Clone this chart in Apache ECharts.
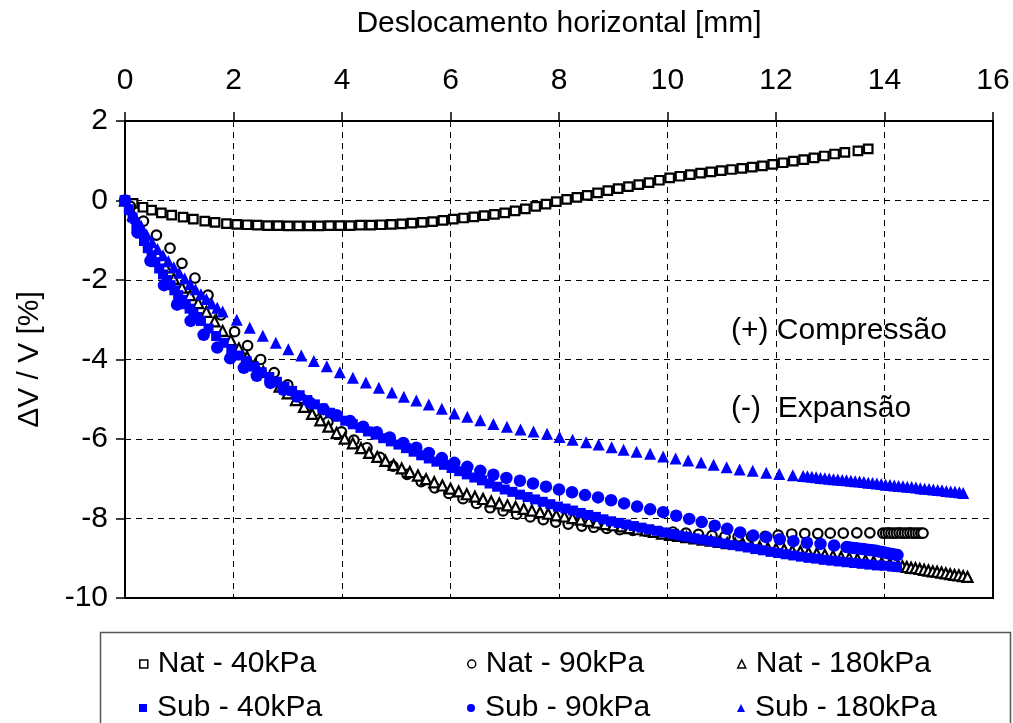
<!DOCTYPE html>
<html>
<head>
<meta charset="utf-8">
<script src="https://cdn.jsdelivr.net/npm/echarts@6/dist/echarts.min.js"></script>
<style>
  html, body { margin: 0; padding: 0; background: #fff; }
  #chart { width: 1013px; height: 723px; }
</style>
</head>
<body>
<div id="chart"></div>
<script>
// Axis ranges
const xRange = { min: 0, max: 16, step: 2 };
const yRange = { min: -10, max: 2, step: 2 };

const seriesNames = ['Nat - 40kPa', 'Nat - 90kPa', 'Nat - 180kPa', 'Sub - 40kPa', 'Sub - 90kPa', 'Sub - 180kPa'];

// [horizontal displacement (mm), volumetric strain (%)]
const nat40 = [
  [0,0],[0.15,-0.07],[0.33,-0.17],[0.49,-0.24],[0.67,-0.31],[0.86,-0.37],[1.07,-0.42],[1.26,-0.47],
  [1.47,-0.52],[1.66,-0.55],[1.87,-0.58],[2.06,-0.6],[2.25,-0.61],[2.44,-0.62],[2.63,-0.63],[2.82,-0.63],
  [3.01,-0.64],[3.2,-0.64],[3.39,-0.64],[3.58,-0.64],[3.77,-0.63],[3.96,-0.63],[4.15,-0.63],[4.34,-0.62],
  [4.53,-0.62],[4.72,-0.61],[4.91,-0.6],[5.1,-0.59],[5.29,-0.57],[5.48,-0.55],[5.67,-0.53],[5.86,-0.5],
  [6.05,-0.47],[6.24,-0.44],[6.43,-0.41],[6.62,-0.38],[6.81,-0.35],[7.0,-0.31],[7.19,-0.26],[7.38,-0.21],
  [7.57,-0.15],[7.76,-0.09],[7.95,-0.03],[8.14,0.03],[8.33,0.08],[8.52,0.13],[8.71,0.19],[8.9,0.25],
  [9.09,0.3],[9.28,0.35],[9.47,0.4],[9.66,0.45],[9.85,0.51],[10.04,0.57],[10.23,0.61],[10.42,0.65],
  [10.61,0.69],[10.8,0.72],[10.99,0.75],[11.18,0.78],[11.37,0.81],[11.56,0.84],[11.75,0.87],[11.94,0.91],
  [12.13,0.95],[12.32,0.99],[12.51,1.03],[12.7,1.07],[12.89,1.12],[13.08,1.17],[13.27,1.21],[13.51,1.25],
  [13.7,1.3]
];

const nat90 = [
  [0,0],[0.1,-0.15],[0.34,-0.52],[0.58,-0.87],[0.83,-1.2],[1.05,-1.58],[1.29,-1.95],[1.53,-2.38],
  [1.77,-2.88],[2.02,-3.3],[2.26,-3.65],[2.5,-4.0],[2.75,-4.33],[3.0,-4.64],[3.25,-4.98],[3.5,-5.3],
  [3.74,-5.57],[3.99,-5.82],[4.22,-6.03],[4.46,-6.22],[4.7,-6.46],[4.94,-6.68],[5.2,-6.89],[5.46,-7.07],
  [5.71,-7.23],[5.97,-7.37],[6.23,-7.5],[6.48,-7.62],[6.73,-7.73],[6.97,-7.81],[7.22,-7.89],[7.47,-7.96],
  [7.71,-8.03],[7.94,-8.09],[8.17,-8.14],[8.42,-8.19],[8.64,-8.22],[8.88,-8.25],[9.12,-8.28],[9.36,-8.3],
  [9.6,-8.32],[9.85,-8.33],[10.1,-8.34],[10.34,-8.37],[10.57,-8.4],[10.82,-8.43],[11.06,-8.45],[11.3,-8.46],
  [11.55,-8.45],[11.8,-8.45],[12.04,-8.42],[12.29,-8.39],[12.53,-8.38],[12.77,-8.38],[13.0,-8.37],[13.24,-8.37],
  [13.49,-8.36],[13.73,-8.36],[13.97,-8.37],[14.02,-8.37],[14.07,-8.36],[14.12,-8.37],[14.17,-8.37],[14.22,-8.37],
  [14.27,-8.36],[14.32,-8.37],[14.37,-8.37],[14.42,-8.37],[14.47,-8.36],[14.52,-8.37],[14.57,-8.37],[14.62,-8.37],
  [14.67,-8.37],[14.71,-8.37]
];

const nat180 = [
  [0,0],[0.15,-0.36],[0.3,-0.7],[0.45,-1.04],[0.6,-1.36],[0.75,-1.68],[0.9,-1.97],[1.05,-2.19],
  [1.2,-2.38],[1.35,-2.58],[1.5,-2.8],[1.65,-3.04],[1.8,-3.28],[1.95,-3.51],[2.1,-3.72],[2.25,-3.93],
  [2.4,-4.12],[2.55,-4.31],[2.7,-4.5],[2.85,-4.68],[3.0,-4.85],[3.15,-5.02],[3.3,-5.19],[3.45,-5.37],
  [3.6,-5.53],[3.75,-5.69],[3.9,-5.85],[4.05,-5.99],[4.2,-6.11],[4.35,-6.23],[4.5,-6.35],[4.65,-6.45],
  [4.8,-6.55],[4.95,-6.65],[5.1,-6.74],[5.25,-6.83],[5.4,-6.92],[5.55,-7.01],[5.7,-7.09],[5.85,-7.17],
  [6.0,-7.25],[6.15,-7.32],[6.3,-7.39],[6.45,-7.45],[6.6,-7.51],[6.75,-7.57],[6.9,-7.62],[7.05,-7.67],
  [7.2,-7.71],[7.35,-7.76],[7.5,-7.8],[7.65,-7.84],[7.8,-7.88],[7.95,-7.92],[8.1,-7.95],[8.25,-7.99],
  [8.4,-8.03],[8.55,-8.06],[8.7,-8.1],[8.85,-8.14],[9.0,-8.17],[9.15,-8.2],[9.3,-8.24],[9.45,-8.27],
  [9.6,-8.3],[9.75,-8.34],[9.9,-8.38],[10.05,-8.41],[10.2,-8.44],[10.35,-8.47],[10.5,-8.5],[10.65,-8.53],
  [10.8,-8.56],[10.95,-8.59],[11.1,-8.62],[11.25,-8.64],[11.4,-8.66],[11.55,-8.69],[11.7,-8.71],[11.85,-8.74],
  [12.0,-8.76],[12.15,-8.78],[12.3,-8.81],[12.45,-8.83],[12.6,-8.86],[12.75,-8.88],[12.9,-8.91],[13.05,-8.94],
  [13.2,-8.97],[13.35,-8.99],[13.5,-9.02],[13.65,-9.05],[13.8,-9.08],[13.95,-9.11],[14.1,-9.14],[14.25,-9.18],
  [14.33,-9.2],[14.41,-9.22],[14.49,-9.24],[14.57,-9.25],[14.65,-9.27],[14.73,-9.29],[14.81,-9.31],[14.89,-9.33],
  [14.97,-9.34],[15.05,-9.36],[15.13,-9.38],[15.21,-9.4],[15.29,-9.42],[15.37,-9.43],[15.45,-9.45],[15.53,-9.47]
];

const sub40 = [
  [0,0],[0.07,-0.22],[0.14,-0.43],[0.21,-0.63],[0.28,-0.83],[0.35,-1.02],[0.42,-1.2],[0.49,-1.38],
  [0.56,-1.55],[0.63,-1.71],[0.7,-1.86],[0.77,-2.0],[0.84,-2.13],[0.91,-2.26],[0.98,-2.38],[1.05,-2.5],
  [1.12,-2.61],[1.19,-2.72],[1.26,-2.83],[1.33,-2.93],[1.4,-3.03],[1.54,-3.22],[1.68,-3.41],[1.82,-3.58],
  [1.96,-3.75],[2.1,-3.9],[2.24,-4.04],[2.38,-4.18],[2.52,-4.32],[2.66,-4.44],[2.8,-4.56],[2.94,-4.68],
  [3.08,-4.79],[3.22,-4.9],[3.36,-5.02],[3.5,-5.13],[3.64,-5.23],[3.78,-5.34],[3.92,-5.44],[4.06,-5.54],
  [4.2,-5.63],[4.34,-5.72],[4.48,-5.81],[4.62,-5.89],[4.76,-5.98],[4.9,-6.06],[5.04,-6.14],[5.18,-6.23],
  [5.32,-6.32],[5.46,-6.41],[5.6,-6.49],[5.74,-6.57],[5.88,-6.65],[6.02,-6.73],[6.16,-6.81],[6.3,-6.89],
  [6.44,-6.97],[6.58,-7.04],[6.72,-7.12],[6.86,-7.2],[7.0,-7.27],[7.14,-7.33],[7.28,-7.4],[7.42,-7.46],
  [7.56,-7.52],[7.7,-7.58],[7.84,-7.64],[7.98,-7.7],[8.12,-7.75],[8.26,-7.8],[8.4,-7.86],[8.54,-7.91],
  [8.68,-7.96],[8.82,-8.02],[8.96,-8.07],[9.1,-8.11],[9.24,-8.15],[9.38,-8.19],[9.52,-8.23],[9.66,-8.27],
  [9.8,-8.31],[9.94,-8.35],[10.08,-8.39],[10.22,-8.43],[10.36,-8.46],[10.5,-8.5],[10.64,-8.53],[10.78,-8.57],
  [10.92,-8.6],[11.06,-8.63],[11.2,-8.67],[11.34,-8.7],[11.48,-8.73],[11.62,-8.77],[11.76,-8.8],[11.9,-8.84],
  [12.04,-8.87],[12.18,-8.9],[12.32,-8.93],[12.46,-8.96],[12.6,-8.99],[12.74,-9.01],[12.88,-9.04],[13.02,-9.06],
  [13.16,-9.08],[13.3,-9.1],[13.44,-9.12],[13.58,-9.14],[13.72,-9.16],[13.86,-9.18],[14.0,-9.19],[14.14,-9.21],
  [14.23,-9.22]
];

const sub90 = [
  [0,0],[0.23,-0.8],[0.47,-1.52],[0.72,-2.13],[0.96,-2.62],[1.21,-3.03],[1.45,-3.38],[1.7,-3.7],
  [1.94,-3.97],[2.19,-4.21],[2.43,-4.41],[2.68,-4.59],[2.92,-4.76],[3.17,-4.93],[3.41,-5.09],[3.66,-5.25],
  [3.9,-5.4],[4.15,-5.55],[4.39,-5.69],[4.64,-5.83],[4.88,-5.96],[5.13,-6.1],[5.37,-6.22],[5.6,-6.35],
  [5.84,-6.48],[6.07,-6.6],[6.31,-6.7],[6.55,-6.8],[6.79,-6.9],[7.03,-6.98],[7.28,-7.05],[7.52,-7.12],
  [7.76,-7.2],[8.0,-7.27],[8.24,-7.34],[8.48,-7.41],[8.72,-7.47],[8.96,-7.54],[9.2,-7.62],[9.44,-7.7],
  [9.68,-7.77],[9.92,-7.84],[10.16,-7.93],[10.4,-8.01],[10.63,-8.09],[10.87,-8.18],[11.1,-8.26],[11.34,-8.35],
  [11.58,-8.43],[11.82,-8.47],[12.07,-8.52],[12.32,-8.57],[12.57,-8.61],[12.82,-8.64],[13.07,-8.68],[13.3,-8.72],
  [13.36,-8.73],[13.42,-8.74],[13.48,-8.75],[13.54,-8.76],[13.6,-8.77],[13.66,-8.78],[13.72,-8.79],[13.78,-8.8],
  [13.84,-8.81],[13.9,-8.83],[13.96,-8.84],[14.02,-8.86],[14.08,-8.88],[14.14,-8.89],[14.2,-8.91],[14.24,-8.92]
];

const sub180 = [
  [0,0],[0.1,-0.22],[0.2,-0.44],[0.3,-0.65],[0.4,-0.86],[0.5,-1.05],[0.6,-1.22],[0.7,-1.38],
  [0.8,-1.53],[0.9,-1.68],[1.0,-1.82],[1.1,-1.96],[1.2,-2.1],[1.3,-2.23],[1.4,-2.36],[1.5,-2.48],
  [1.6,-2.59],[1.7,-2.7],[1.8,-2.79],[2.06,-3.0],[2.3,-3.2],[2.54,-3.4],[2.78,-3.58],[3.01,-3.74],
  [3.25,-3.9],[3.48,-4.04],[3.72,-4.17],[3.96,-4.32],[4.2,-4.46],[4.44,-4.58],[4.68,-4.71],[4.92,-4.83],
  [5.14,-4.94],[5.37,-5.03],[5.6,-5.13],[5.84,-5.24],[6.07,-5.36],[6.31,-5.44],[6.55,-5.53],[6.79,-5.62],
  [7.04,-5.69],[7.29,-5.76],[7.53,-5.81],[7.78,-5.87],[8.01,-5.95],[8.25,-6.02],[8.5,-6.08],[8.73,-6.14],
  [8.97,-6.21],[9.19,-6.27],[9.43,-6.32],[9.68,-6.37],[9.92,-6.44],[10.15,-6.49],[10.38,-6.54],[10.62,-6.59],
  [10.85,-6.65],[11.09,-6.71],[11.33,-6.77],[11.57,-6.8],[11.82,-6.85],[12.06,-6.88],[12.31,-6.91],[12.5,-6.93],
  [12.58,-6.94],[12.66,-6.95],[12.74,-6.96],[12.82,-6.98],[12.9,-6.99],[12.98,-7.0],[13.06,-7.01],[13.14,-7.02],
  [13.22,-7.03],[13.3,-7.04],[13.38,-7.05],[13.46,-7.06],[13.54,-7.07],[13.62,-7.08],[13.7,-7.1],[13.78,-7.11],
  [13.86,-7.12],[13.94,-7.13],[14.02,-7.15],[14.1,-7.16],[14.18,-7.17],[14.26,-7.18],[14.34,-7.19],[14.42,-7.2],
  [14.5,-7.21],[14.58,-7.22],[14.66,-7.24],[14.74,-7.25],[14.82,-7.26],[14.9,-7.27],[14.98,-7.28],[15.06,-7.29],
  [15.14,-7.31],[15.22,-7.32],[15.3,-7.33],[15.38,-7.34],[15.45,-7.36]
];

const FONT = "'Liberation Sans', Arial, Helvetica, sans-serif";
const BLUE = '#0000ff';

const seriesData = [nat40, nat90, nat180, sub40, sub90, sub180];
const symbols = ['rect', 'circle', 'triangle', 'rect', 'circle', 'triangle'];
const sizes = [8.5, 9.5, 10, 10, 12.5, 12];

const series = seriesData.map(function (data, i) {
  const hollow = i < 3;
  return {
    name: seriesNames[i],
    type: 'scatter',
    data: data,
    symbol: symbols[i],
    symbolSize: sizes[i],
    itemStyle: hollow
      ? { color: '#fff', borderColor: '#000', borderWidth: 2.2, opacity: 1 }
      : { color: BLUE, borderWidth: 0, opacity: 1 },
    emphasis: { disabled: true },
    z: 2 + i
  };
});

// one legend block per entry, laid out in a 3 x 2 table
const legendCols = [139, 467, 737];
const legendRows = [647, 691];
const legends = seriesNames.map(function (name, i) {
  const hollow = i < 3;
  return {
    data: [{ name: name, icon: symbols[i] }],
    left: legendCols[i % 3],
    top: legendRows[Math.floor(i / 3)],
    itemWidth: 8,
    itemHeight: 8,
    padding: 0,
    selectedMode: false,
    itemStyle: hollow ? { color: '#fff', borderColor: '#000', borderWidth: 1.5 } : { color: BLUE, borderWidth: 0 },
    textStyle: { fontSize: 30, color: '#000', fontFamily: FONT, lineHeight: 34, padding: [0, 0, 0, 5] }
  };
});

const chart = echarts.init(document.getElementById('chart'), null, { renderer: 'canvas' });
chart.setOption({
  animation: false,
  backgroundColor: '#fff',
  textStyle: { fontFamily: FONT },
  grid: {
    left: 125, top: 121, width: 868, height: 477,
    show: true, borderColor: '#000', borderWidth: 2, backgroundColor: '#fff'
  },
  xAxis: {
    type: 'value', position: 'top',
    min: xRange.min, max: xRange.max, interval: xRange.step,
    name: 'Deslocamento horizontal [mm]',
    nameLocation: 'middle', nameGap: 82,
    nameTextStyle: { fontSize: 30, color: '#000', fontFamily: FONT },
    axisLine: { show: true, onZero: false, lineStyle: { color: '#000', width: 2 } },
    axisTick: { show: true, inside: false, length: 9, lineStyle: { color: '#000', width: 1.5 } },
    axisLabel: { fontSize: 30, color: '#000', margin: 25, fontFamily: FONT },
    splitLine: { show: true, lineStyle: { color: '#000', width: 1, type: [6, 5] } }
  },
  yAxis: {
    type: 'value',
    min: yRange.min, max: yRange.max, interval: yRange.step,
    name: 'ΔV / V [%]',
    nameLocation: 'middle', nameGap: 80,
    nameTextStyle: { fontSize: 30, color: '#000', fontFamily: FONT },
    axisLine: { show: true, onZero: false, lineStyle: { color: '#000', width: 2 } },
    axisTick: { show: true, inside: false, length: 9, lineStyle: { color: '#000', width: 1.5 } },
    axisLabel: { fontSize: 30, color: '#000', margin: 17, fontFamily: FONT },
    splitLine: { show: true, lineStyle: { color: '#000', width: 1, type: [6, 5] } }
  },
  legend: legends,
  graphic: [
    {
      type: 'rect', z: -1, silent: true,
      shape: { x: 100.5, y: 632.5, width: 910, height: 110 },
      style: { fill: '#fff', stroke: '#555', lineWidth: 1.5 }
    },
    {
      type: 'text', left: 731, top: 316, silent: true,
      style: { text: '(+) Compressão', fontSize: 30, fill: '#000', fontFamily: FONT }
    },
    {
      type: 'text', left: 731, top: 394, silent: true,
      style: { text: '(-)  Expansão', fontSize: 30, fill: '#000', fontFamily: FONT }
    }
  ],
  series: series
});
</script>
</body>
</html>
